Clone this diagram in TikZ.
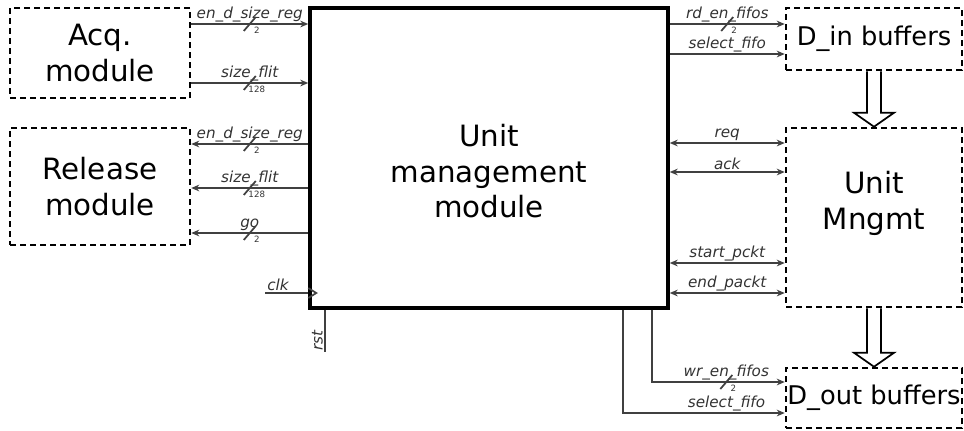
\documentclass[tikz,border=0pt]{standalone}
\usepackage{fontspec}
\setmainfont{DejaVu Sans}
\usetikzlibrary{arrows.meta, calc, positioning}

\begin{document}
\begin{tikzpicture}[x=0.75pt, y=-0.75pt,
    module/.style={draw, line width=1.9pt, dash pattern=on 4.5pt off 3pt, inner sep=0pt, align=center, font=\fontsize{22}{26.5}\selectfont},
    buffer/.style={module, font=\fontsize{19.3}{23}\selectfont},
    bigtext/.style={align=center, font=\fontsize{22}{26.5}\selectfont},
    mainblock/.style={draw, line width=2.6pt, inner sep=0pt},
    wire/.style={draw=black!75, line width=1.3pt},
    arrow/.style={wire, -{Stealth[length=6pt, width=5pt]}},
    biarrow/.style={wire, {Stealth[length=6pt, width=5pt]}-{Stealth[length=6pt, width=5pt]}},
    sig/.style={above, inner sep=1pt, text=black!80, font=\fontsize{11.4}{12}\selectfont\itshape},
    fat/.style={draw, line width=1.3pt},
    pics/bus/.style={code={
        \draw[wire, -] (-6,7) -- (6,-7);
        \node[inner sep=0pt, text=black!80, font=\fontsize{6.5}{6.5}\selectfont] at (7,6.5) {#1};
    }}]

    \useasboundingbox (0,0) rectangle (964,430);

    % blocks
    \node[module, minimum width=135pt, minimum height=67.5pt] (acq) at (100,53) {Acq.\\module};
    \node[module, minimum width=135pt, minimum height=87.75pt] (rel) at (100,186.5) {Release\\module};
    \node[mainblock, minimum width=268.5pt, minimum height=225pt,
          label={[bigtext, yshift=-10pt]center:Unit\\management\\module}] (unit) at (489,158) {};
    \node[buffer, minimum width=132pt, minimum height=46.5pt] (din) at (874,39) {D\_in buffers};
    \node[module, minimum width=132pt, minimum height=134.25pt,
          label={[bigtext, yshift=10.5pt]center:Unit\\Mngmt}] (mng) at (874,217.5) {};
    \node[buffer, minimum width=132pt, minimum height=45pt] (dout) at (874,398) {D\_out buffers};

    % acquisition / release side
    \draw[arrow] (acq.east |- 0,24) -- node[sig]{en\_d\_size\_reg} pic[pos=.5]{bus=2} (unit.west |- 0,24);
    \draw[arrow] (acq.east |- 0,83) -- node[sig]{size\_flit} pic[pos=.5]{bus=128} (unit.west |- 0,83);
    \draw[arrow] (unit.west |- 0,144) -- node[sig]{en\_d\_size\_reg} pic[pos=.5]{bus=2} (rel.east |- 0,144);
    \draw[arrow] (unit.west |- 0,188) -- node[sig]{size\_flit} pic[pos=.5]{bus=128} (rel.east |- 0,188);
    \draw[arrow] (unit.west |- 0,233) -- node[sig]{go} pic[pos=.5]{bus=2} (rel.east |- 0,233);

    % clock and reset
    \coordinate (clkin) at (265,293);
    \coordinate (rstout) at (325,352);
    \draw[wire] (clkin) -- node[sig, pos=.3]{clk} (unit.west |- clkin);
    \draw[wire] (unit.west |- 0,288) -- ++(8,5) -- ++(-8,5);
    \draw[wire] (unit.south -| rstout) -- node[sig, rotate=90, pos=.73]{rst} (rstout);

    % buffers and unit management
    \draw[arrow] (unit.east |- 0,24) -- node[sig]{rd\_en\_fifos} pic[pos=.5]{bus=2} (din.west |- 0,24);
    \draw[arrow] (unit.east |- 0,54) -- node[sig, inner sep=0.5pt]{select\_fifo} (din.west |- 0,54);
    \draw[biarrow] (unit.east |- 0,143) -- node[sig]{req} (mng.west |- 0,143);
    \draw[biarrow] (unit.east |- 0,172) -- node[sig]{ack} (mng.west |- 0,172);
    \draw[biarrow] (unit.east |- 0,263) -- node[sig]{start\_pckt} (mng.west |- 0,263);
    \draw[biarrow] (unit.east |- 0,293) -- node[sig]{end\_packt} (mng.west |- 0,293);
    \draw[arrow] (unit.south -| 652,0) |- node[sig, pos=.78]{wr\_en\_fifos} pic[pos=.78]{bus=2} (dout.west |- 0,382);
    \draw[arrow] (unit.south -| 623,0) |- node[sig, pos=.82, inner sep=0.5pt]{select\_fifo} (dout.west |- 0,413);

    % data flow
    \draw[fat] ($(din.south)+(-7,0)$) -- ($(mng.north)+(-7,-14)$) -- ++(-13,0) -- (mng.north)
        -- ++(20,-14) -- ++(-13,0) -- ($(din.south)+(7,0)$);
    \draw[fat] ($(mng.south)+(-7,0)$) -- ($(dout.north)+(-7,-14)$) -- ++(-13,0) -- (dout.north)
        -- ++(20,-14) -- ++(-13,0) -- ($(mng.south)+(7,0)$);
\end{tikzpicture}
\end{document}
